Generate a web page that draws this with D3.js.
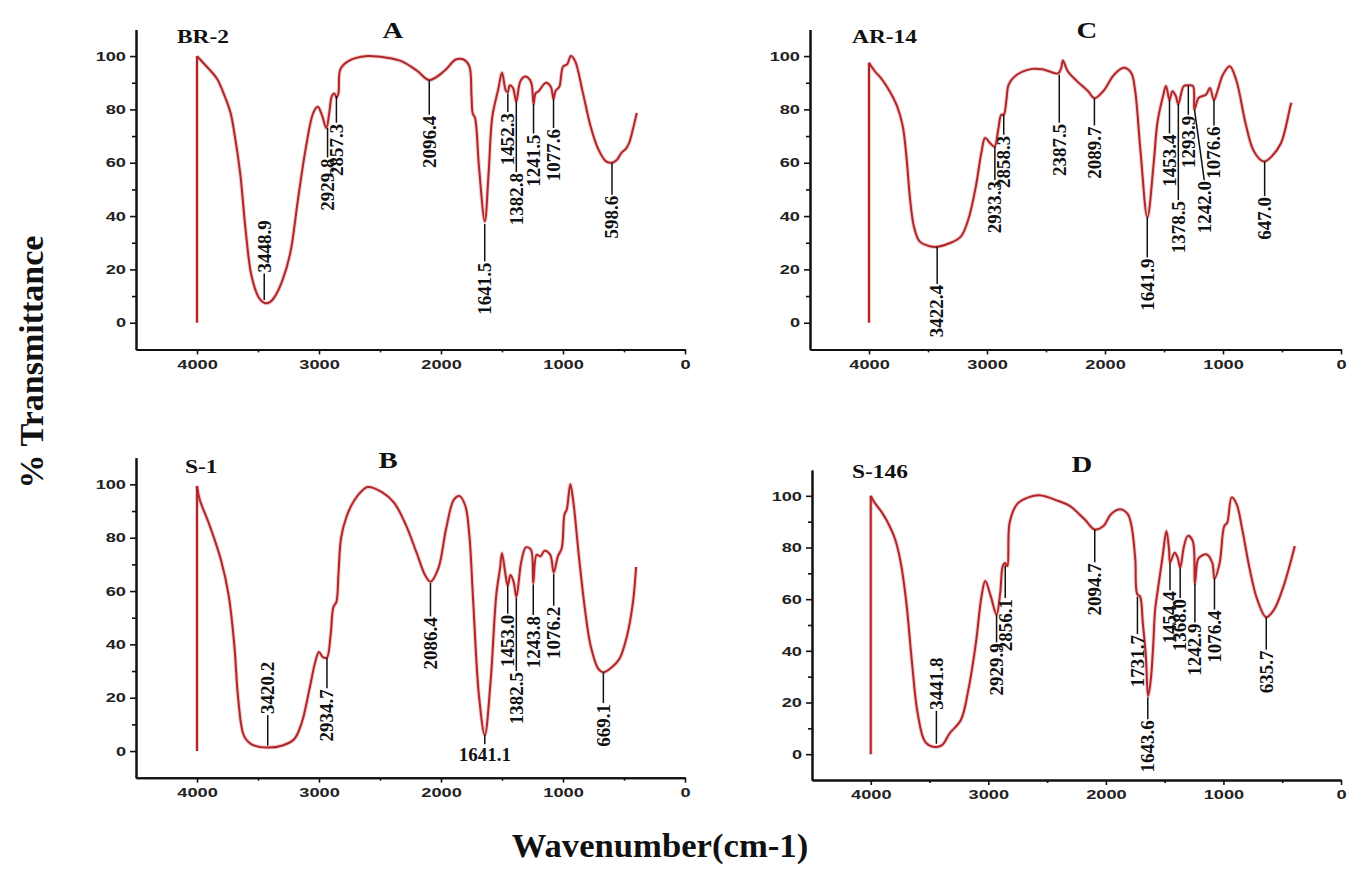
<!DOCTYPE html>
<html>
<head>
<meta charset="utf-8">
<script src="https://cdn.jsdelivr.net/npm/d3@7"></script>
<style>
  body { margin: 0; background: #fff; }
  svg { display: block; }
</style>
</head>
<body>
<svg id="chart" width="1347" height="879"></svg>
<script>
// FTIR spectra, [wavenumber (cm-1), % transmittance]
const br2Spectrum = [
  [4000, 0], [4000, 100], [3950, 97.5], [3899, 95], [3836, 91.5], [3773, 85], [3725, 78.7], [3694, 71.2],
  [3646, 56], [3599, 33.6], [3552, 17.3], [3489, 9.1], [3440, 7.3], [3400, 7.8], [3362, 9.8], [3299, 16],
  [3236, 26], [3173, 46], [3110, 65], [3047, 78.7], [3010, 81], [2977, 78], [2940, 73], [2915, 79],
  [2895, 85], [2875, 86], [2857, 84.5], [2841, 86], [2825, 95], [2763, 98], [2605, 100], [2447, 99.4],
  [2320, 98], [2194, 94.4], [2096, 91], [1973, 94.4], [1879, 98.7], [1815, 98.7], [1768, 96.2], [1750, 85],
  [1740, 78.5], [1721, 76.8], [1689, 58.6], [1641, 38], [1610, 56], [1579, 77.4], [1531, 87.5], [1500, 93.7],
  [1468, 87], [1452, 86.5], [1437, 89], [1410, 88], [1383, 83], [1350, 90.5], [1310, 92.3], [1270, 91],
  [1255, 89], [1241, 82], [1225, 86], [1200, 86.8], [1140, 90], [1100, 88.5], [1078, 84], [1060, 87],
  [1030, 88.5], [1000, 96], [965, 97], [935, 100], [900, 98], [837, 86.2], [774, 73.7], [710, 65],
  [647, 60.5], [598, 60], [560, 61], [521, 63.7], [480, 65.5], [458, 67.4], [430, 72], [395, 78.7]
];
const ar14Spectrum = [
  [4000, 0], [4000, 97.5], [3952, 94.4], [3889, 91.2], [3825, 86.8], [3762, 81.2], [3714, 73.7], [3683, 62.4],
  [3651, 46], [3619, 36], [3571, 30.5], [3476, 28.6], [3420, 28.5], [3317, 29.8], [3222, 32.3], [3159, 38.6],
  [3095, 51], [3048, 63.7], [3016, 69.3], [2975, 67.4], [2937, 66], [2905, 72.4], [2879, 78], [2858, 78],
  [2835, 83.7], [2816, 89.3], [2746, 93], [2619, 95.2], [2524, 95], [2397, 93.5], [2371, 95.6], [2356, 98.3],
  [2317, 94.4], [2238, 90.6], [2143, 86.8], [2090, 84.2], [2016, 86.8], [1921, 93.1], [1841, 95.6], [1778, 93.7],
  [1746, 87.5], [1698, 63.7], [1641, 39.5], [1587, 60], [1556, 75], [1508, 85], [1483, 88.8], [1453, 83.5],
  [1429, 86.8], [1400, 85], [1379, 82], [1333, 88.7], [1294, 89], [1254, 88.7], [1242, 80], [1206, 84.3],
  [1143, 85.6], [1111, 88], [1077, 83.5], [1048, 86.8], [1000, 93.1], [943, 96.2], [889, 91.2], [810, 75],
  [746, 65], [680, 61], [647, 60.5], [587, 62.4], [508, 67.4], [429, 81.2], [420, 82.5]
];
const s1Spectrum = [
  [4000, 0], [4000, 99.4], [3978, 94.3], [3899, 84.9], [3804, 71.7], [3741, 58.5], [3694, 39.6], [3662, 19.5],
  [3615, 5.7], [3552, 2.5], [3425, 1.3], [3299, 2.1], [3204, 4.4], [3141, 10.7], [3078, 23.3], [3031, 33.3],
  [3000, 37.1], [2968, 35.2], [2936, 35], [2905, 43.4], [2882, 54], [2857, 56], [2841, 66], [2819, 79.9],
  [2778, 87.4], [2715, 93.7], [2636, 98.1], [2600, 99], [2478, 96.9], [2384, 93.1], [2289, 84.9], [2194, 73.6],
  [2131, 66], [2086, 63.5], [2021, 68.6], [1957, 83.6], [1894, 94.3], [1847, 95.6], [1800, 91.8], [1768, 81.1],
  [1736, 56], [1689, 20.8], [1641, 6], [1594, 25.8], [1547, 58.5], [1516, 68.6], [1500, 74.2], [1475, 67.3],
  [1453, 62], [1431, 66], [1405, 63.5], [1382, 57.8], [1342, 71], [1304, 76.4], [1263, 75.5], [1244, 63],
  [1216, 73.6], [1184, 73], [1152, 75.1], [1105, 73.6], [1076, 67], [1042, 73], [1010, 76.1], [988, 88.7],
  [969, 90.6], [940, 100], [916, 93.7], [868, 72.3], [821, 53.5], [774, 39.6], [710, 30.8], [669, 29.5],
  [600, 31.4], [537, 34.6], [474, 43.4], [426, 56], [401, 69]
];
const s146Spectrum = [
  [4000, 0], [4000, 100], [3968, 97.4], [3904, 93.5], [3840, 88.3], [3793, 83.2], [3745, 74.1], [3697, 58.5],
  [3649, 35.2], [3601, 15.8], [3537, 4.8], [3457, 2.8], [3394, 3.5], [3330, 8], [3234, 13.2], [3170, 24.9],
  [3106, 43], [3058, 61.1], [3026, 67], [2979, 61.1], [2930, 54], [2899, 62.4], [2877, 72.8], [2857, 74],
  [2838, 72.8], [2819, 89.6], [2755, 96.8], [2659, 99.4], [2564, 100.2], [2404, 98], [2308, 96.1], [2181, 90.9],
  [2095, 87], [2021, 88.3], [1957, 92.9], [1878, 94.8], [1814, 92.9], [1782, 88.3], [1750, 75.4], [1734, 62],
  [1709, 61], [1686, 50.8], [1660, 38], [1641, 22.5], [1620, 28], [1600, 40], [1581, 56], [1558, 63.7],
  [1517, 76.7], [1485, 86.4], [1463, 79.3], [1454, 74.2], [1415, 78], [1389, 76], [1368, 72.2], [1335, 80.6],
  [1303, 84.5], [1261, 82.5], [1243, 66], [1217, 75.4], [1191, 76.7], [1143, 77.3], [1095, 74.1], [1076, 68],
  [1032, 74.1], [993, 88.3], [968, 89.6], [930, 99.4], [888, 96.8], [840, 87], [776, 71.5], [712, 59.8],
  [636, 53], [569, 56], [489, 65], [393, 80.6]
];

// peak labels: wavenumber, leader line from / to (in %T)
const br2Peaks = [
  { wn: 3448.9, from: 8.5, to: 18.5 }, { wn: 2929.8, from: 73, to: 62 }, { wn: 2857.3, from: 85, to: 75 },
  { wn: 2096.4, from: 91, to: 78 }, { wn: 1641.5, from: 37, to: 23 }, { wn: 1452.3, from: 86, to: 79 },
  { wn: 1382.8, from: 83, to: 56.5 }, { wn: 1241.5, from: 82, to: 71 }, { wn: 1077.6, from: 84, to: 73 },
  { wn: 598.6, from: 60, to: 48 }
];
const ar14Peaks = [
  { wn: 3422.4, from: 28.5, to: 14.5 }, { wn: 2933.3, from: 66, to: 53.5 }, { wn: 2858.3, from: 78, to: 70.5 },
  { wn: 2387.5, from: 93, to: 75 }, { wn: 2089.7, from: 84, to: 74 }, { wn: 1641.9, from: 39.5, to: 24.5 },
  { wn: 1453.4, from: 83.5, to: 71 }, { wn: 1378.5, from: 82, to: 46 }, { wn: 1293.9, from: 89, to: 78 },
  { wn: 1242.0, from: 80, to: 53.5, textWn: 1159 }, { wn: 1076.6, from: 83.5, to: 74 }, { wn: 647.0, from: 60.5, to: 47.5 }
];
const s1Peaks = [
  { wn: 3420.2, from: 2, to: 13.5 }, { wn: 2934.7, from: 35, to: 23.5 }, { wn: 2086.4, from: 63, to: 50.5 },
  { wn: 1641.1, from: 6, to: 2.5, flat: true }, { wn: 1453.0, from: 62, to: 51.5 }, { wn: 1382.5, from: 57.5, to: 30 },
  { wn: 1243.8, from: 62.5, to: 51 }, { wn: 1076.2, from: 66.5, to: 54.5 }, { wn: 669.1, from: 29.5, to: 18 }
];
const s146Peaks = [
  { wn: 3441.8, from: 4, to: 16.8 }, { wn: 2929.9, from: 54, to: 43.3 }, { wn: 2856.1, from: 73, to: 60.5 },
  { wn: 2094.7, from: 87, to: 74.3 }, { wn: 1731.7, from: 61, to: 46.5 }, { wn: 1643.6, from: 22, to: 13.5 },
  { wn: 1454.4, from: 74, to: 63.5 }, { wn: 1368.0, from: 72, to: 60.5 }, { wn: 1242.9, from: 66, to: 51 },
  { wn: 1076.4, from: 68, to: 56 }, { wn: 635.7, from: 53, to: 40.5 }
];

const xMajorTicks = [4000, 3000, 2000, 1000, 0];
const xMinorTicks = [3500, 2500, 1500, 500];
const yMajorTicks = [0, 20, 40, 60, 80, 100];
const yMinorTicks = [10, 30, 50, 70, 90];

const panels = [
  { letter: "A", sample: "BR-2", spectrum: br2Spectrum, peaks: br2Peaks,
    box: { left: 136, right: 685, top: 29.4, bottom: 349.4 }, samplePos: [177, 43], letterPos: [393, 38] },
  { letter: "C", sample: "AR-14", spectrum: ar14Spectrum, peaks: ar14Peaks,
    box: { left: 810, right: 1341, top: 29.4, bottom: 349.4 }, samplePos: [852, 43], letterPos: [1087, 38] },
  { letter: "B", sample: "S-1", spectrum: s1Spectrum, peaks: s1Peaks,
    box: { left: 136, right: 685, top: 457.7, bottom: 777.7 }, samplePos: [185, 473], letterPos: [388, 468] },
  { letter: "D", sample: "S-146", spectrum: s146Spectrum, peaks: s146Peaks,
    box: { left: 812, right: 1341, top: 470, bottom: 780 }, samplePos: [852, 478], letterPos: [1082, 472] }
];

const svg = d3.select("#chart");
const serif = "'Liberation Serif', 'Times New Roman', serif";
const sans = "'Liberation Sans', Arial, sans-serif";
const lineColor = "#b0272b";

// the source figure is stretched sideways, so widen horizontal text a bit
function widen(sel, k) {
  sel.each(function() {
    const w = this.getComputedTextLength();
    d3.select(this).attr("textLength", w * k).attr("lengthAdjust", "spacingAndGlyphs");
  });
}

panels.forEach(p => {
  const b = p.box;
  const x = d3.scaleLinear().domain([4500, 0]).range([b.left, b.right]);
  const y = d3.scaleLinear().domain([-10, 110]).range([b.bottom, b.top]);
  const g = svg.append("g");

  // minor ticks first, then major axes on top
  g.append("g")
    .attr("transform", `translate(0,${b.bottom})`)
    .call(d3.axisBottom(x).tickValues(xMinorTicks).tickSize(3).tickSizeOuter(0).tickFormat(""));
  g.append("g")
    .attr("transform", `translate(${b.left},0)`)
    .call(d3.axisLeft(y).tickValues(yMinorTicks).tickSize(4).tickSizeOuter(0).tickFormat(""));

  const xAxis = g.append("g")
    .attr("transform", `translate(0,${b.bottom})`)
    .call(d3.axisBottom(x).tickValues(xMajorTicks).tickSize(5).tickSizeOuter(0).tickPadding(5).tickFormat(d3.format("d")));
  const yAxis = g.append("g")
    .attr("transform", `translate(${b.left},0)`)
    .call(d3.axisLeft(y).tickValues(yMajorTicks).tickSize(6).tickSizeOuter(0).tickPadding(4).tickFormat(d3.format("d")));

  g.selectAll(".domain").attr("stroke", "#111").attr("stroke-width", 2);
  g.selectAll(".tick line").attr("stroke", "#111").attr("stroke-width", 1.6);
  [xAxis, yAxis].forEach(a => {
    a.selectAll("text")
      .attr("font-family", sans)
      .attr("font-weight", "bold")
      .attr("font-size", 13)
      .attr("fill", "#222")
      .call(widen, 1.4);
  });

  // spectrum: straight jump at 4000, then a smooth trace
  const line = d3.line()
    .x(d => x(d[0]))
    .y(d => y(d[1]))
    .curve(d3.curveCatmullRom.alpha(0.5));
  const jump = d3.line().x(d => x(d[0])).y(d => y(d[1]));
  const trace = p.spectrum.slice(1);

  [["#e06a6a", 0.35, 4], [lineColor, 1, 2]].forEach(([c, o, w]) => {
    g.append("path")
      .datum(p.spectrum.slice(0, 2))
      .attr("fill", "none")
      .attr("stroke", c).attr("stroke-opacity", o).attr("stroke-width", w)
      .attr("d", jump);
    g.append("path")
      .datum(trace)
      .attr("fill", "none")
      .attr("stroke", c).attr("stroke-opacity", o).attr("stroke-width", w)
      .attr("stroke-linejoin", "round")
      .attr("d", line);
  });

  // peak annotations
  const peak = g.selectAll(".peak").data(p.peaks).join("g").attr("class", "peak");

  peak.append("line")
    .attr("x1", d => x(d.wn))
    .attr("y1", d => y(d.from))
    .attr("x2", d => x(d.textWn ?? d.wn))
    .attr("y2", d => y(d.to))
    .attr("stroke", "#111")
    .attr("stroke-width", 1.5);

  peak.filter(d => !d.flat).append("text")
    .attr("transform", d => `translate(${x(d.textWn ?? d.wn)},${y(d.to) + (d.to > d.from ? -1 : 1)}) rotate(-90)`)
    .attr("dy", "0.33em")
    .attr("text-anchor", d => d.to > d.from ? "start" : "end")
    .attr("font-family", serif)
    .attr("font-weight", "bold")
    .attr("font-size", 19)
    .attr("fill", "#111")
    .text(d => d.wn.toFixed(1));

  peak.filter(d => d.flat).append("text")
    .attr("x", d => x(d.wn))
    .attr("y", d => y(d.to) + 17)
    .attr("text-anchor", "middle")
    .attr("font-family", serif)
    .attr("font-weight", "bold")
    .attr("font-size", 19)
    .attr("fill", "#111")
    .text(d => d.wn.toFixed(1));

  // sample name and panel letter
  g.append("text")
    .attr("x", p.samplePos[0]).attr("y", p.samplePos[1])
    .attr("font-family", serif).attr("font-weight", "bold").attr("font-size", 18)
    .attr("fill", "#111")
    .text(p.sample)
    .call(widen, 1.3);
  g.append("text")
    .attr("x", p.letterPos[0]).attr("y", p.letterPos[1])
    .attr("text-anchor", "middle")
    .attr("font-family", serif).attr("font-weight", "bold").attr("font-size", 23)
    .attr("fill", "#111")
    .text(p.letter)
    .call(widen, 1.25);
});

// shared axis titles
svg.append("text")
  .attr("transform", "translate(43,362) rotate(-90)")
  .attr("text-anchor", "middle")
  .attr("font-family", serif).attr("font-weight", "bold").attr("font-size", 34)
  .attr("fill", "#111")
  .text("% Transmittance");

svg.append("text")
  .attr("x", 660).attr("y", 857)
  .attr("text-anchor", "middle")
  .attr("font-family", serif).attr("font-weight", "bold").attr("font-size", 33)
  .attr("fill", "#111")
  .text("Wavenumber(cm-1)")
  .call(widen, 1.05);
</script>
</body>
</html>
